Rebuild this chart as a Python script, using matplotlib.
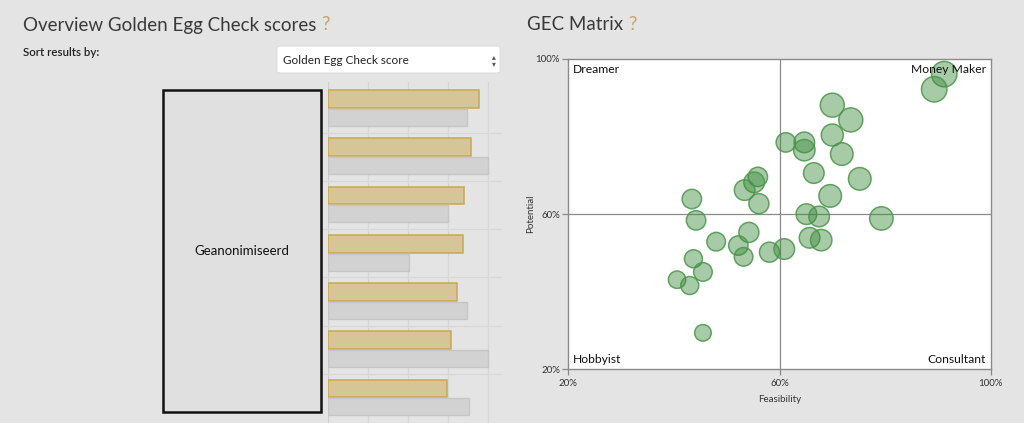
"""
Recreation of the Golden Egg Check dashboard panel.

Left: anonymised overview bars (score vs. benchmark).
Right: GEC matrix bubble chart (feasibility vs. potential).
"""

import matplotlib

matplotlib.use("Agg")

import matplotlib.pyplot as plt
from matplotlib.patches import Rectangle, FancyBboxPatch


# ============================================================
# Data
# ============================================================

# overview bars, one row per (anonymised) entry, top to bottom
score_gold = [3.77, 3.57, 3.40, 3.37, 3.24, 3.09, 2.97]
score_grey = [3.48, 4.00, 3.01, 2.02, 3.48, 4.00, 3.52]

# GEC matrix bubbles (percentages) and bubble radius in pixels
feasibility = [91.2, 89.3, 70.0, 73.5, 70.0, 61.2, 64.7, 64.7, 71.8, 66.5,
               55.9, 55.2, 53.4, 75.2, 69.6, 43.4, 56.1, 65.1, 67.5, 79.3,
               44.2, 54.2, 48.0, 52.2, 65.7, 67.9, 58.1, 60.9, 53.2, 43.7,
               45.5, 40.6, 43.0, 45.5]
potential = [96.1, 92.2, 88.1, 84.3, 80.4, 78.5, 78.5, 76.5, 75.5, 70.6,
             69.6, 68.2, 66.2, 69.1, 64.7, 63.9, 62.7, 60.0, 59.4, 58.9,
             58.4, 55.3, 52.9, 51.9, 53.9, 53.3, 50.2, 51.0, 49.0, 48.5,
             45.1, 43.1, 41.6, 29.4]
bubble_radius = [12.7, 12.7, 12.0, 12.0, 11.0, 9.7, 10.3, 10.7, 11.3, 10.3,
                 9.7, 10.3, 10.3, 11.3, 11.3, 9.7, 10.0, 10.3, 10.3, 11.7,
                 9.7, 10.0, 9.3, 9.7, 10.3, 10.7, 10.0, 10.3, 9.3, 9.0,
                 9.3, 8.7, 9.0, 8.3]

matrix_ticks = [20, 60, 100]
quadrants = ["Dreamer", "Money Maker", "Hobbyist", "Consultant"]


# ============================================================
# Style
# ============================================================

W, H = 1024, 423
BG = "#e4e4e4"
GOLD_FILL = "#d6c697"
GOLD_EDGE = "#c9a651"
GREY_FILL = "#d2d2d2"
GREY_EDGE = "#c6c6c6"
QMARK = "#c4a66a"
FONT = ["Lato", "DejaVu Sans"]

plt.rcParams["font.family"] = FONT


def fx(px: float) -> float:
    """Pixel x to figure fraction."""
    return px / W


def fy(py: float) -> float:
    """Pixel y (from top) to figure fraction."""
    return 1 - py / H


def heading(fig, x_px: float, text: str) -> None:
    """Section heading followed by a gold question mark."""
    t = fig.text(fx(x_px), fy(25), text, fontsize=13.5, color="#3a3a3a",
                 va="center")
    bb = t.get_window_extent(renderer=fig.canvas.get_renderer())
    fig.text(fx(bb.x1 + 5), fy(25), "?", fontsize=13.5, color=QMARK,
             va="center")


# ============================================================
# Left panel
# ============================================================

def draw_overview(fig) -> None:
    heading(fig, 23, "Overview Golden Egg Check scores")
    fig.text(fx(23), fy(53), "Sort results by:", fontsize=8.3,
             fontweight="semibold", color="#222222", va="center")

    # dropdown
    box = FancyBboxPatch((fx(277), fy(73)), fx(223), 27 / H,
                         boxstyle="round,pad=0,rounding_size=0.004",
                         transform=fig.transFigure, facecolor="white",
                         edgecolor="#d8d8d8", linewidth=0.6)
    fig.add_artist(box)
    fig.text(fx(283), fy(60), "Golden Egg Check score", fontsize=8.5,
             color="#222222", va="center")
    fig.text(fx(494), fy(60), "\u25b4\n\u25be", fontsize=5.5, color="#555555",
             va="center", ha="center", linespacing=0.8,
             family=["DejaVu Sans"])

    # anonymised name column
    name_box = Rectangle((fx(163), fy(412)), fx(158), 322 / H,
                         transform=fig.transFigure, facecolor="#e0e0e0",
                         edgecolor="#111111", linewidth=1.8)
    fig.add_artist(name_box)
    fig.text(fx(242), fy(251), "Geanonimiseerd", fontsize=9.5,
             color="#111111", ha="center", va="center")

    ax = fig.add_axes([fx(327.7), 0, fx(173), fy(82)])
    ax.set_facecolor("none")
    rows = range(len(score_gold))
    ax.barh([i + 0.301 for i in rows], score_gold, height=0.366,
            color=GOLD_FILL, edgecolor=GOLD_EDGE, linewidth=1.1, zorder=3)
    ax.barh([i + 0.681 for i in rows], score_grey, height=0.352,
            color=GREY_FILL, edgecolor=GREY_EDGE, linewidth=1.0, zorder=3)
    for x in range(5):
        ax.axvline(x, color="#d6d6d6" if x else "#cfcfcf", linewidth=0.9,
                   zorder=1)
    for i in range(1, len(score_gold)):
        ax.axhline(i, xmin=-0.03, color="#d8d8d8", linewidth=0.9, zorder=1,
                   clip_on=False)
    ax.set_xlim(0, 173 / 40)
    ax.set_ylim(7.013, -0.048)
    ax.set_axis_off()


# ============================================================
# Right panel
# ============================================================

def draw_matrix(fig) -> None:
    heading(fig, 527, "GEC Matrix")

    ax = fig.add_axes([fx(568.3), fy(369.3), fx(422.4), 310.3 / H])
    ax.set_facecolor("white")
    ax.set_xlim(20, 100)
    ax.set_ylim(20, 100)

    sizes = [(1.44 * r) ** 2 for r in bubble_radius]
    ax.scatter(feasibility, potential, s=sizes,
               facecolor=(0.24, 0.55, 0.24, 0.45),
               edgecolor=(0.30, 0.58, 0.30, 0.85), linewidth=1.1, zorder=3)

    ax.axvline(60, color="#8a8a8a", linewidth=0.9, zorder=1)
    ax.axhline(60, color="#8a8a8a", linewidth=0.9, zorder=1)
    for s in ax.spines.values():
        s.set_color("#8a8a8a")
        s.set_linewidth(1.0)

    labels = [f"{t}%" for t in matrix_ticks]
    ax.set_xticks(matrix_ticks, labels)
    ax.set_yticks(matrix_ticks, labels)
    ax.tick_params(length=4, width=0.9, color="#8a8a8a", labelsize=7,
                   labelcolor="#333333", pad=2)
    ax.tick_params(axis="x", pad=3)
    ax.set_xlabel("Feasibility", fontsize=7, color="#333333", labelpad=5)
    ax.set_ylabel("Potential", fontsize=7, color="#333333", labelpad=0)

    kw = dict(transform=ax.transAxes, fontsize=8.7, color="#111111")
    ax.text(0.012, 0.985, quadrants[0], ha="left", va="top", **kw)
    ax.text(0.988, 0.985, quadrants[1], ha="right", va="top", **kw)
    ax.text(0.012, 0.015, quadrants[2], ha="left", va="bottom", **kw)
    ax.text(0.988, 0.015, quadrants[3], ha="right", va="bottom", **kw)


# ============================================================
# Main execution
# ============================================================

def main() -> None:
    fig = plt.figure(figsize=(W / 100, H / 100), dpi=100, facecolor=BG)
    draw_overview(fig)
    draw_matrix(fig)
    fig.savefig("out.png", dpi=100, facecolor=BG)


if __name__ == "__main__":
    main()
